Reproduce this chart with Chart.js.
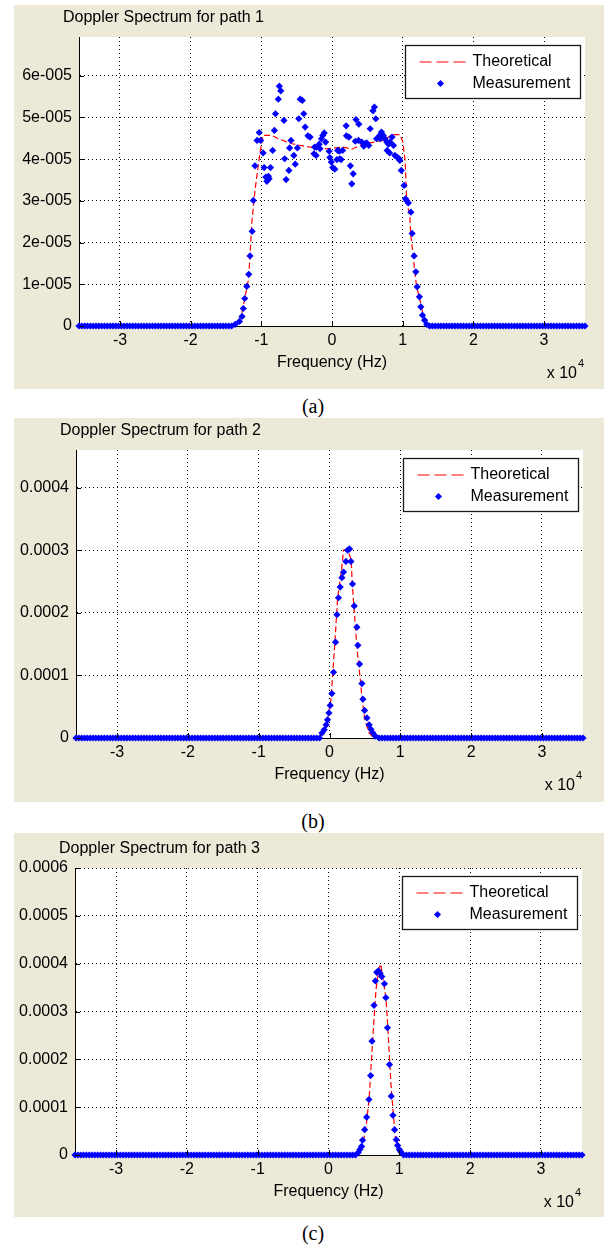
<!DOCTYPE html>
<html>
<head>
<meta charset="utf-8">
<title>Doppler Spectrum</title>
<script src="https://cdn.jsdelivr.net/npm/chart.js@4.4.1/dist/chart.umd.min.js"></script>
<style>
    body { margin: 0; background: #fff; }
    canvas { display: block; }
    .panel { position: absolute; left: 14px; width: 590px; height: 384px; background: #ece9d8; }
    .caption { position: absolute; left: 283px; width: 60px; text-align: center; color: #000;
               font: 20px "Liberation Serif", "Times New Roman", serif; line-height: 22px; }
</style>
</head>
<body>
<div class="panel" style="top:5px"><canvas id="chartA" width="590" height="384"></canvas></div>
<div class="caption" style="top:395px">(a)</div>
<div class="panel" style="top:418px"><canvas id="chartB" width="590" height="384"></canvas></div>
<div class="caption" style="top:810px">(b)</div>
<div class="panel" style="top:833px"><canvas id="chartC" width="590" height="384"></canvas></div>
<div class="caption" style="top:1222px">(c)</div>
<script>
// frequency axis (Hz), shared by the three plots
const F_MIN = -35800, F_MAX = 35800, TAIL_STEP = 400;
const xTickValues = [-30000, -20000, -10000, 0, 10000, 20000, 30000];
const xTickLabels = ['-3', '-2', '-1', '0', '1', '2', '3'];
const xLabel = 'Frequency (Hz)';
const xExponent = ['x 10', '4'];

// path 1, values in units of 1e-5
const yTicksA = [0, 1, 2, 3, 4, 5, 6];
const yLabelsA = ['0', '1e-005', '2e-005', '3e-005', '4e-005', '5e-005', '6e-005'];
const measFreqA = [
    -13700, -13100, -12730, -12550, -12350, -12060, -11780, -11600, -11300, -11130,
    -10900, -10600, -10300, -10100, -9750, -9600, -9360, -9220, -9000, -8900,
    -8700, -8400, -8150, -8000, -7600, -7450, -7250, -6800, -6700, -6500,
    -6100, -6000, -5800, -5400, -5200, -4900, -4700, -4500, -4200, -4000,
    -3800, -3400, -3100, -2550, -2450, -2250, -2200, -1800, -1700, -1500,
    -1300, -1100, -900, -400, -300, -100, 100, 400, 700, 800,
    1050, 1100, 1300, 1500, 2000, 2050, 2400, 2600, 2800, 3000,
    3300, 3400, 3750, 3800, 4200, 4500, 4600, 4900, 5200, 5400,
    5800, 6000, 6200, 6300, 6750, 6850, 7000, 7250, 7500, 7750,
    7800, 8000, 8150, 8200, 8500, 8700, 8900, 9200, 9500, 9600,
    9800, 10200, 10400, 10600, 10800, 11160, 11340, 11620, 11860, 12050,
    12370, 12570, 12800, 13100, 13400
];
const measValA = [
    0.04, 0.11, 0.23, 0.42, 0.66, 0.95, 1.24, 1.68, 2.27, 3.01,
    3.84, 4.45, 4.64, 4.45, 4.15, 3.80, 3.57, 3.47, 3.59, 3.53,
    3.80, 4.21, 4.69, 5.09, 5.44, 5.75, 5.64, 4.93, 4.01, 3.51,
    3.73, 4.27, 4.45, 4.09, 3.88, 4.27, 4.97, 5.44, 5.41, 5.09,
    4.77, 4.56, 4.53, 4.13, 4.29, 4.09, 4.29, 4.36, 4.25, 4.49,
    4.57, 4.63, 4.41, 4.19, 4.04, 3.93, 3.80, 3.76, 3.99, 4.21,
    4.19, 4.01, 3.99, 4.21, 4.80, 4.56, 4.53, 3.84, 3.41, 3.65,
    4.43, 4.95, 4.45, 4.84, 4.41, 4.31, 4.37, 4.39, 4.33, 4.73,
    5.16, 5.25, 4.97, 4.49, 4.57, 4.49, 4.65, 4.57, 4.49, 4.41,
    4.21, 4.36, 4.15, 4.41, 4.53, 4.33, 4.09, 4.05, 4.01, 3.97,
    3.73, 3.37, 3.05, 3.00, 2.95, 2.73, 2.22, 1.68, 1.30, 0.94,
    0.70, 0.46, 0.26, 0.14, 0.04
];
const theoFreqA = [
    -35800, -13700, -13250, -12770, -12300, -11840, -11600, -11360, -10890, -10400,
    -10130, -9750, -8500, -7600, -5650, -4500, -3100, -700, 500, 1600,
    2800, 4000, 5900, 7300, 8500, 9600, 10000, 10350, 10560, 11030,
    11130, 11500, 11740, 11980, 12450, 12900, 13300, 13600, 35800
];
const theoValA = [
    0, 0, 0.1, 0.3, 0.7, 1.1, 1.65, 2.46, 3.26, 3.9,
    4.21, 4.57, 4.57, 4.49, 4.37, 4.33, 4.29, 4.25, 4.27, 4.29,
    4.24, 4.33, 4.41, 4.45, 4.59, 4.59, 4.43, 3.97, 3.01, 2.6,
    2.22, 1.66, 1.26, 0.94, 0.62, 0.26, 0.06, 0, 0
];

// path 2, values in units of 1e-4
const yTicksB = [0, 1, 2, 3, 4];
const yLabelsB = ['0', '0.0001', '0.0002', '0.0003', '0.0004'];
const measFreqB = [
    -1070, -750, -470, -280, -80, 100, 340, 570, 850, 1050,
    1270, 1510, 1750, 1980, 2320, 2550, 2830, 3030, 3250, 3490,
    3870, 4010, 4240, 4580, 4720, 4950, 5290, 5600, 5850, 6140, 6460
];
const measValB = [
    0.08, 0.13, 0.21, 0.29, 0.40, 0.52, 0.71, 1.05, 1.53, 1.97,
    2.24, 2.41, 2.56, 2.65, 2.82, 3.00, 3.02, 2.82, 2.46, 2.11,
    1.77, 1.48, 1.18, 0.87, 0.62, 0.44, 0.32, 0.21, 0.14, 0.08, 0.03
];
const theoFreqB = [
    -35800, -1600, -1100, -600, -200, 200, 760, 1130, 1750, 1980, 2550,
    3070, 3200, 3450, 3900, 4400, 4600, 5000, 5600, 6200, 6600, 35800
];
const theoValB = [
    0, 0, 0.06, 0.16, 0.35, 0.61, 1.52, 2.21, 2.74, 3.0, 3.0,
    2.85, 2.48, 2.1, 1.41, 0.88, 0.61, 0.29, 0.08, 0.01, 0, 0
];

// path 3, values in units of 1e-4
const yTicksC = [0, 1, 2, 3, 4, 5, 6];
const yLabelsC = ['0', '0.0001', '0.0002', '0.0003', '0.0004', '0.0005', '0.0006'];
const measFreqC = [
    4200, 4430, 4670, 4810, 5100, 5380, 5710, 5950, 6140, 6430, 6620, 6810, 7050,
    7290, 7520, 7900, 8100, 8330, 8610, 8860, 9100, 9330, 9570, 9760, 10000, 10200
];
const measValC = [
    0.05, 0.115, 0.18, 0.31, 0.53, 0.79, 1.16, 1.66, 2.38, 3.13, 3.64, 3.82, 3.85,
    3.80, 3.73, 3.58, 3.29, 2.66, 1.89, 1.23, 0.83, 0.53, 0.32, 0.20, 0.115, 0.07
];
const theoFreqC = [
    -35800, 4000, 4400, 4900, 5380, 5760, 6100, 6430, 6710, 7100,
    7380, 7600, 8140, 8470, 8810, 9100, 9430, 9900, 10500, 35800
];
const theoValC = [
    0, 0, 0.08, 0.26, 0.68, 1.23, 2.07, 2.84, 3.46, 3.9,
    3.99, 3.78, 3.25, 2.42, 1.51, 0.95, 0.39, 0.1, 0, 0
];

const FONT = '"Liberation Sans", Arial, Helvetica, sans-serif';
const MARKER_R = 3.6;

// measured bins: zero everywhere outside the listed band
function measurementPoints(freqs, vals, unit) {
    var left = [], right = [];
    for (var f = F_MIN; f < freqs[0] - 200; f += TAIL_STEP) left.push({x: f, y: 0});
    for (var g = F_MAX; g > freqs[freqs.length - 1] + 200; g -= TAIL_STEP) right.unshift({x: g, y: 0});
    var band = freqs.map(function (fr, i) { return {x: fr, y: vals[i] * unit}; });
    return left.concat(band, right);
}

function curvePoints(freqs, vals, unit) {
    return freqs.map(function (fr, i) { return {x: fr, y: vals[i] * unit}; });
}

// white axes box, inward ticks, title, exponent and the boxed legend
const matlabLook = {
    id: 'matlabLook',
    beforeDraw: function (chart) {
        var a = chart.chartArea, ctx = chart.ctx;
        ctx.save();
        ctx.fillStyle = '#fff';
        ctx.fillRect(a.left, a.top, a.right - a.left, a.bottom - a.top);
        ctx.restore();
    },
    afterDraw: function (chart, args, opts) {
        var ctx = chart.ctx, a = chart.chartArea;
        var xs = chart.scales.x, ys = chart.scales.y;
        ctx.save();

        ctx.strokeStyle = '#000';
        ctx.lineWidth = 1;
        ctx.beginPath();
        xs.ticks.forEach(function (t) {
            var px = Math.round(xs.getPixelForValue(t.value)) + 0.5;
            ctx.moveTo(px, a.bottom);
            ctx.lineTo(px, a.bottom - 5);
        });
        ys.ticks.forEach(function (t) {
            var py = Math.round(ys.getPixelForValue(t.value)) + 0.5;
            ctx.moveTo(a.left, py);
            ctx.lineTo(a.left + 5, py);
        });
        ctx.stroke();

        ctx.fillStyle = '#000';
        ctx.font = '16px ' + FONT;
        ctx.textAlign = 'left';
        ctx.textBaseline = 'middle';
        ctx.fillText(opts.title, a.left - 16, a.top - 19);

        ctx.textAlign = 'center';
        ctx.fillText(xLabel, (a.left + a.right) / 2, a.bottom + 37);

        ctx.textAlign = 'right';
        ctx.textBaseline = 'alphabetic';
        ctx.fillText(xExponent[0], a.right - 8, a.bottom + 52);
        ctx.font = '11px ' + FONT;
        ctx.textAlign = 'left';
        ctx.fillText(xExponent[1], a.right - 7, a.bottom + 41);

        // legend
        var lx = Math.round(a.right - 180) + 0.5, ly = Math.round(a.top + 8) + 0.5;
        var lw = 175, lh = 53;
        ctx.fillStyle = '#fff';
        ctx.fillRect(lx, ly, lw, lh);
        ctx.strokeStyle = '#1a1a1a';
        ctx.lineWidth = 1.3;
        ctx.strokeRect(lx, ly, lw, lh);

        ctx.strokeStyle = '#ff0000';
        ctx.lineWidth = 1.2;
        ctx.setLineDash([12, 5]);
        ctx.beginPath();
        ctx.moveTo(lx + 14, ly + 16.5);
        ctx.lineTo(lx + 61, ly + 16.5);
        ctx.stroke();
        ctx.setLineDash([]);

        var mx = lx + 35, my = ly + 38, r = MARKER_R;
        ctx.fillStyle = '#0000ff';
        ctx.beginPath();
        ctx.moveTo(mx, my - r);
        ctx.lineTo(mx + r, my);
        ctx.lineTo(mx, my + r);
        ctx.lineTo(mx - r, my);
        ctx.closePath();
        ctx.fill();

        ctx.fillStyle = '#000';
        ctx.font = '16px ' + FONT;
        ctx.textBaseline = 'middle';
        ctx.fillText(chart.data.datasets[0].label, lx + 67, ly + 16.5);
        ctx.fillText(chart.data.datasets[1].label, lx + 67, ly + 38.5);

        ctx.restore();
    }
};

function spectrumChart(id, cfg) {
    return new Chart(document.getElementById(id), {
        type: 'scatter',
        data: {
            datasets: [{
                label: 'Theoretical',
                data: curvePoints(cfg.theoFreq, cfg.theoVal, cfg.unit),
                showLine: true,
                borderColor: '#ff0000',
                borderWidth: 1.2,
                borderDash: [6, 3],
                pointRadius: 0,
                order: 1
            }, {
                label: 'Measurement',
                data: measurementPoints(cfg.measFreq, cfg.measVal, cfg.unit),
                showLine: false,
                pointStyle: 'rectRot',
                pointRadius: MARKER_R,
                pointBorderWidth: 0,
                backgroundColor: '#0000ff',
                borderColor: '#0000ff',
                clip: 6,
                order: 0
            }]
        },
        options: {
            responsive: false,
            animation: false,
            events: [],
            layout: {
                autoPadding: false,
                padding: {left: 0, top: cfg.padTop, right: cfg.padRight, bottom: 0}
            },
            scales: {
                x: {
                    type: 'linear',
                    min: F_MIN,
                    max: F_MAX,
                    afterBuildTicks: function (s) {
                        s.ticks = xTickValues.map(function (v) { return {value: v}; });
                    },
                    afterFit: function (s) {
                        s.height = cfg.xAxisH;
                        s.paddingLeft = 0;
                        s.paddingRight = 0;
                    },
                    ticks: {
                        callback: function (v, i) { return xTickLabels[i]; },
                        font: {family: FONT, size: 16},
                        color: '#000',
                        padding: 5,
                        maxRotation: 0,
                        autoSkip: false
                    },
                    grid: {color: '#000', lineWidth: 1, drawTicks: false},
                    border: {display: true, color: '#000', width: 1, dash: [1, 3]}
                },
                y: {
                    type: 'linear',
                    min: 0,
                    max: cfg.yMax * cfg.unit,
                    afterBuildTicks: function (s) {
                        s.ticks = cfg.yTicks.map(function (v) { return {value: v * cfg.unit}; });
                    },
                    afterFit: function (s) {
                        s.width = cfg.yAxisW;
                        s.paddingTop = 0;
                        s.paddingBottom = 0;
                    },
                    ticks: {
                        callback: function (v, i) { return cfg.yLabels[i]; },
                        font: {family: FONT, size: 16},
                        color: '#000',
                        padding: 7,
                        autoSkip: false
                    },
                    grid: {color: '#000', lineWidth: 1, drawTicks: false},
                    border: {display: true, color: '#000', width: 1, dash: [1, 3]}
                }
            },
            plugins: {
                legend: {display: false},
                tooltip: {enabled: false},
                matlabLook: {title: cfg.title}
            }
        },
        plugins: [matlabLook]
    });
}

spectrumChart('chartA', {
    title: 'Doppler Spectrum for path 1',
    unit: 1e-5, yMax: 6.93, yTicks: yTicksA, yLabels: yLabelsA,
    measFreq: measFreqA, measVal: measValA, theoFreq: theoFreqA, theoVal: theoValA,
    padTop: 32, padRight: 19, yAxisW: 65, xAxisH: 63
});

spectrumChart('chartB', {
    title: 'Doppler Spectrum for path 2',
    unit: 1e-4, yMax: 4.6, yTicks: yTicksB, yLabels: yLabelsB,
    measFreq: measFreqB, measVal: measValB, theoFreq: theoFreqB, theoVal: theoValB,
    padTop: 32, padRight: 21, yAxisW: 62, xAxisH: 64
});

spectrumChart('chartC', {
    title: 'Doppler Spectrum for path 3',
    unit: 1e-4, yMax: 6, yTicks: yTicksC, yLabels: yLabelsC,
    measFreq: measFreqC, measVal: measValC, theoFreq: theoFreqC, theoVal: theoValC,
    padTop: 35, padRight: 22, yAxisW: 61, xAxisH: 62
});
</script>
</body>
</html>
